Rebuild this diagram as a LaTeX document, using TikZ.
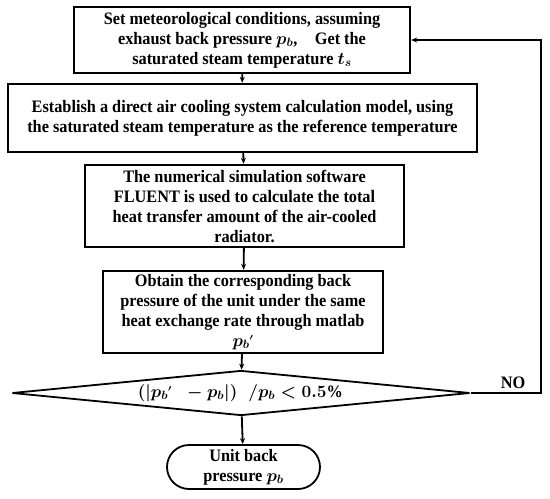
\documentclass[tikz,border=0pt]{standalone}
\usepackage{amsmath}
\usepackage{fontspec}
\setmainfont[FakeStretch=0.93]{Liberation Serif}
\usetikzlibrary{arrows.meta,shapes.geometric,shapes.misc}

\tikzset{
  stepbox/.style={draw=black, line width=2.4pt, align=center, inner sep=0pt,
    font=\fontsize{17.5}{20}\selectfont\bfseries\boldmath},
  flow/.style={-{Stealth[length=6pt,width=5pt]}, line width=1.8pt},
}

\begin{document}
\begin{tikzpicture}[x=1pt, y=-1pt]
    \useasboundingbox[fill=white] (0,0) rectangle (550,499);
    \node[stepbox, minimum width=336pt, minimum height=66pt] (set) at (242,40)
      {Set meteorological conditions, assuming\\
       exhaust back pressure $p_b$,\quad Get the\\
       saturated steam temperature $t_s$};
    \node[stepbox, minimum width=469pt, minimum height=68pt] (model) at (242.5,118)
      {Establish a direct air cooling system calculation model, using\\
       the saturated steam temperature as the reference temperature};
    \node[stepbox, minimum width=319pt, minimum height=82pt] (fluent) at (244.5,206)
      {The numerical simulation software\\
       FLUENT is used to calculate the total\\
       heat transfer amount of the air-cooled\\
       radiator.};
    \node[stepbox, minimum width=280pt, minimum height=82pt] (obtain) at (243,312)
      {Obtain the corresponding back\\
       pressure of the unit under the same\\
       heat exchange rate through matlab\\
       $p_b{}^{\scriptscriptstyle\prime}$};
    \node[stepbox, diamond, line width=1.8pt, shape aspect=10,
      minimum width=458pt, minimum height=45pt] (check) at (241,393)
      {$(|p_b{}^{\scriptscriptstyle\prime}\;\;-p_b|)\;\;/p_b<0.5\%$};
    \node[stepbox, rounded rectangle, line width=1.8pt,
      minimum width=153pt, minimum height=44pt] (unit) at (243.5,467)
      {Unit back\\ pressure $p_b$};
    \coordinate (loop) at (541,393);

    \draw[flow] (set) -- (model);
    \draw[flow] (model) -- (fluent);
    \draw[flow] (fluent) -- (obtain);
    \draw[flow] (obtain) -- (check);
    \draw[flow] (check) -- (unit);
    \draw[flow] (check.east) -- (loop)
      node[pos=0.6, above, font=\fontsize{17.5}{20}\selectfont\bfseries] (no) {NO}
      |- (set.east);
  \end{tikzpicture}
\end{document}
